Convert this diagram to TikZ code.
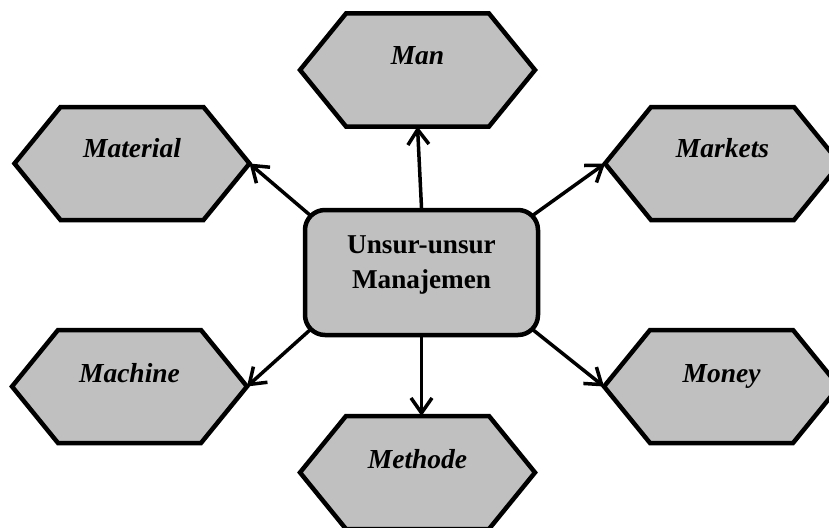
\documentclass[tikz,border=0pt]{standalone}
\usepackage{fontspec}
\setmainfont{Liberation Serif}
\usetikzlibrary{calc,arrows.meta,backgrounds}
\definecolor{hexfill}{HTML}{C0C0C0}
\tikzset{
  hexnode/.style={minimum width=235pt, minimum height=113pt, inner sep=0pt, outer sep=0pt, draw=none},
  hexline/.style={draw=black, fill=hexfill, line width=4.5pt, line join=miter},
  htext/.style={anchor=base, font=\fontsize{27.5}{32}\selectfont\bfseries\itshape, inner sep=0pt},
  ctext/.style={anchor=base, font=\fontsize{27.2}{32}\selectfont\bfseries, inner sep=0pt},
  centerbox/.style={draw=black, fill=hexfill, line width=4.5pt, rounded corners=20pt, minimum width=233pt, minimum height=125pt, inner sep=0pt},
  arr/.style={line width=3.5pt, -{Straight Barb[length=15pt,width=21pt]}, line cap=round}
}
\begin{document}
\begin{tikzpicture}[x=1pt,y=-1pt]
\path[use as bounding box, clip] (0,0) rectangle (829,527);
% hexagon placeholders
\node[hexnode] (man) at (417.5,70) {};
\node[hexnode] (material) at (132,163.5) {};
\node[hexnode] (markets) at (722.5,163.5) {};
\node[hexnode] (machine) at (129.5,386.5) {};
\node[hexnode] (money) at (721.5,386.5) {};
\node[hexnode] (methode) at (417.5,472.5) {};
\foreach \h in {man,material,markets,machine,money,methode}{
  \draw[hexline] (\h.west) -- ($(\h.north west)+(46,0)$) -- ($(\h.north east)+(-46,0)$)
    -- (\h.east) -- ($(\h.south east)+(-46,0)$) -- ($(\h.south west)+(46,0)$) -- cycle;
}
\node[htext] (manT) at ($(man.center)+(0,-6)$) {Man};
\node[htext] (materialT) at ($(material.center)+(0,-6)$) {Material};
\node[htext] (marketsT) at ($(markets.center)+(0,-6)$) {Markets};
\node[htext] (machineT) at ($(machine.center)+(0,-4)$) {Machine};
\node[htext] (moneyT) at ($(money.center)+(0,-4)$) {Money};
\node[htext] (methodeT) at ($(methode.center)+(0,-4)$) {Methode};
% central box
\node[centerbox] (box) at (421.5,272.5) {};
\node[ctext] (c1) at ($(box.center)+(0,-19.5)$) {Unsur-unsur};
\node[ctext] (c2) at ($(box.center)+(0,15.5)$) {Manajemen};
% connectors
\coordinate (bnw) at ($(box.north west)+(8,8)$);
\coordinate (bne) at ($(box.north east)+(-8,8)$);
\coordinate (bsw) at ($(box.south west)+(8,-8)$);
\coordinate (bse) at ($(box.south east)+(-8,-8)$);
\begin{scope}[on background layer]
  \draw[arr] (box.north) -- (man.south);
  \draw[arr] (box.south) -- (box.south |- methode.north);
  \draw[arr] (bnw) -- (material.east);
  \draw[arr] (bne) -- (markets.west);
  \draw[arr] (bsw) -- (machine.east);
  \draw[arr] (bse) -- (money.west);
\end{scope}
\end{tikzpicture}
\end{document}
